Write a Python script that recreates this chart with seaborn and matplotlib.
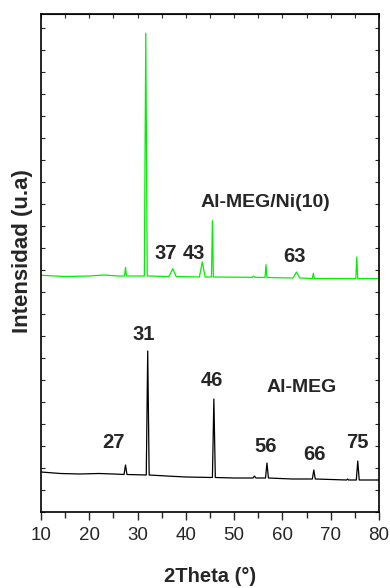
import matplotlib
matplotlib.use("Agg")
import matplotlib.pyplot as plt
import seaborn as sns
import pandas as pd
from matplotlib.ticker import MultipleLocator

# Data (arbitrary intensity units)
black_x = [10, 14, 18, 22, 25, 27.2, 27.5, 27.8, 31.8, 32.1, 32.4, 36, 40, 45.5, 45.8, 46.1,
           50, 53.9, 54.2, 54.5, 56.5, 56.8, 57.1, 62, 66.2, 66.5, 66.8, 73.3, 73.5, 73.7,
           75.3, 75.6, 75.9, 80]
black_y = [40, 38.5, 38, 38.5, 38, 37.5, 47, 37.5, 37, 161, 37, 36, 35, 34.5, 113, 34.5,
           34, 34, 36, 34, 34, 49, 34, 33, 33, 42, 33, 32, 33, 32,
           32, 51, 32, 32]

green_x = [10, 15, 20, 23, 26, 27.3, 27.5, 27.7, 31.4, 31.7, 32, 36.5, 37.3, 38, 42.8, 43.4,
           44, 45.3, 45.5, 45.7, 53.8, 54, 54.2, 56.4, 56.6, 56.8, 62.2, 62.9, 63.6, 66.2,
           66.4, 66.6, 75.2, 75.4, 75.6, 80]
green_y = [236.7, 235.5, 236, 237, 236, 236, 244.7, 236, 236, 478.7, 236, 235.5, 243.3, 235.5,
           235, 250, 235, 235, 291.3, 235, 234.7, 236, 234.7, 234.5, 247.3, 234.5, 234, 240,
           234, 233.5, 238.7, 233.5, 233.3, 255, 233.3, 233.5]

black_labels = ["27", "31", "46", "56", "66", "75"]
black_label_x = [25.1, 31.2, 45.5, 56.5, 66.6, 75.5]
black_label_y = [70, 177, 131, 65, 58, 70]
green_labels = ["37", "43", "63"]
green_label_x = [35.8, 41.7, 62.6]
green_label_y = [259, 259, 256]
sample_names = ["Al-MEG/Ni(10)", "Al-MEG"]
sample_x = [56.5, 64.0]
sample_y = [310, 125]

xticks = [10, 20, 30, 40, 50, 60, 70, 80]

sns.set_style("ticks")
plt.rcParams['font.family'] = ['Liberation Sans', 'DejaVu Sans']
plt.rcParams['ytick.direction'] = 'in'

fig = plt.figure(figsize=(3.9, 5.88), dpi=100)
ax = fig.add_axes([41/390, 1 - 512/588, 338/390, 498/588])

df_b = pd.DataFrame({"x": black_x, "y": black_y})
df_g = pd.DataFrame({"x": green_x, "y": green_y})
sns.lineplot(data=df_b, x="x", y="y", ax=ax, color="black", lw=0.9, sort=False)
sns.lineplot(data=df_g, x="x", y="y", ax=ax, color="#00f000", lw=0.9, sort=False)

ax.set_xlim(10, 80)
ax.set_ylim(0, 498)
ax.set_xticks(xticks)
ax.xaxis.set_minor_locator(MultipleLocator(5))
ax.yaxis.set_major_locator(MultipleLocator(22))
ax.set_yticklabels([])
ax.tick_params(axis='x', which='major', direction='out', length=6, width=1,
               labelsize=13.5, top=False, pad=5)
ax.tick_params(axis='x', which='minor', direction='out', length=4, width=1, top=False)
ax.tick_params(axis='y', which='both', direction='in', length=3, width=0.8,
               left=True, right=True, labelleft=False)
# inward ticks on top
ax2 = ax.secondary_xaxis('top')
ax2.set_xticks(list(range(10, 81, 5)))
ax2.tick_params(direction='in', length=3, width=0.8, labeltop=False)
ax2.set_xticklabels([])
for s in ax.spines.values():
    s.set_linewidth(1.2)
    s.set_color("black")

ax.set_xlabel("2Theta (°)", fontsize=14.5, fontweight='bold', labelpad=16)
ax.set_ylabel("Intensidad (u.a)", fontsize=16, fontweight='bold')
ax.yaxis.set_label_coords(-0.025, 0.523)

for t, x, y in zip(black_labels, black_label_x, black_label_y):
    ax.text(x, y, t, fontsize=14.5, fontweight='bold', ha='center', va='center')
for t, x, y in zip(green_labels, green_label_x, green_label_y):
    ax.text(x, y, t, fontsize=14.5, fontweight='bold', ha='center', va='center')
for t, x, y in zip(sample_names, sample_x, sample_y):
    ax.text(x, y, t, fontsize=14, fontweight='bold', ha='center', va='center')

fig.savefig("out.png", dpi=100)
